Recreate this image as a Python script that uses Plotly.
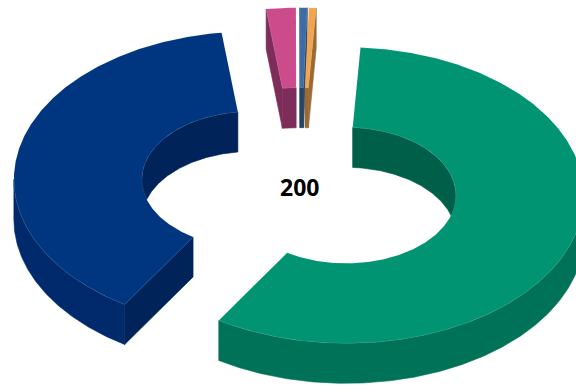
import numpy as np
import plotly.graph_objects as go

# Data
labels = ["Green", "Navy", "Pink", "Blue", "Orange"]
values = [116, 78, 4, 1, 1]
total_label = "200"

# Colours per slice: top face, outer wall, inner wall, cut face
top_colors = ["#009473", "#00357F", "#CC4B8A", "#3C6CA3", "#F2A54E"]
outer_colors = ["#007257", "#002A6C", "#7E2D5A", "#274569", "#9A6A35"]
inner_colors = ["#005F48", "#00245A", "#7E2D5A", "#274569", "#9A6A35"]
cut_colors = ["#005F48", "#00245A", "#7E2D5A", "#274569", "#9A6A35"]

# 3D doughnut projection
W, H = 576, 385
CX, CY = 299.5, 186.0
RX, RY = 238.0, 148.0
IRX, IRY = 110.0, 68.0
DEPTH = 40.0
EXPLODE = 0.205
FIRST_ANGLE = 3.5
EDGE = "rgba(255,255,255,0.15)"


def pt(c, a, rx, ry):
    t = np.radians(a)
    return c[0] + rx * np.sin(t), c[1] - ry * np.cos(t)


def arc(c, a1, a2, rx, ry):
    a = np.linspace(a1, a2, max(2, int(abs(a2 - a1) * 2) + 2))
    return pt(c, a, rx, ry)


def poly(fig, x, y, color, name, line=None):
    x = list(x) + [x[0]]
    y = list(y) + [y[0]]
    fig.add_trace(go.Scatter(
        x=x, y=y, mode="lines", fill="toself", fillcolor=color,
        line=dict(color=line or color, width=0.6), name=name,
        hoverinfo="name", showlegend=False))


def wall(fig, c, a1, a2, rx, ry, color, name):
    x, y = arc(c, a1, a2, rx, ry)
    poly(fig, np.r_[x, x[::-1]], np.r_[y, y[::-1] + DEPTH], color, name)


def cut(fig, c, a, color, name):
    x1, y1 = pt(c, a, IRX, IRY)
    x2, y2 = pt(c, a, RX, RY)
    poly(fig, [x1, x2, x2, x1], [y1, y2, y2 + DEPTH, y1 + DEPTH], color, name)


fig = go.Figure()
spans = 360.0 * np.array(values) / sum(values)
start = FIRST_ANGLE
for i, span in enumerate(spans):
    a1, a2 = start, start + span
    start = a2
    mid = (a1 + a2) / 2
    c = pt((CX, CY), mid, EXPLODE * RX, EXPLODE * RY)

    # inner wall: only the far half of the hole shows
    for lo, hi in ((-90, 90), (270, 450)):
        p, q = max(a1, lo), min(a2, hi)
        if q > p:
            wall(fig, c, p, q, IRX, IRY, inner_colors[i], labels[i])
    # outer wall: only the near half shows
    p, q = max(a1, 90), min(a2, 270)
    if q > p:
        wall(fig, c, p, q, RX, RY, outer_colors[i], labels[i])
    # cut faces turned towards the viewer
    if np.sin(np.radians(a1)) < -1e-6:
        cut(fig, c, a1, cut_colors[i], labels[i])
    if np.sin(np.radians(a2)) > 1e-6:
        cut(fig, c, a2, cut_colors[i], labels[i])
    # top face
    xo, yo = arc(c, a1, a2, RX, RY)
    xi, yi = arc(c, a2, a1, IRX, IRY)
    poly(fig, np.r_[xo, xi], np.r_[yo, yi], top_colors[i], labels[i], line=EDGE)

fig.add_annotation(x=299, y=186.5, text=f"<b>{total_label}</b>", showarrow=False,
                   font=dict(family="Open Sans", size=23, color="#000000"))
fig.update_layout(
    width=W, height=H, autosize=False, margin=dict(l=0, r=0, t=0, b=0),
    paper_bgcolor="white", plot_bgcolor="white", showlegend=False,
    xaxis=dict(range=[0, W], visible=False, fixedrange=True),
    yaxis=dict(range=[H, 0], visible=False, fixedrange=True),
)
fig.write_html("out.html", config=dict(displayModeBar=False),
               post_script="document.body.style.margin='0';document.documentElement.style.overflow='hidden';")
